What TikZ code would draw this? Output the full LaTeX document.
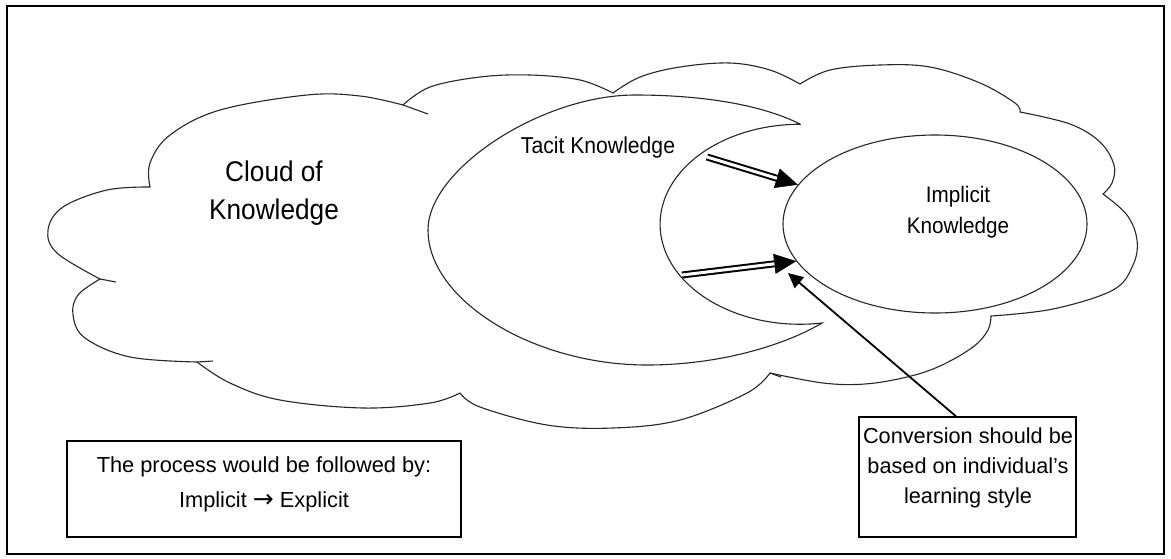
\documentclass[tikz,border=0pt]{standalone}
\usepackage{fontspec}
\setmainfont{Liberation Sans}
\newfontfamily\narrowfont{Liberation Sans}[FakeStretch=0.92]
\newfontfamily\symfont{DejaVu Sans}
\usetikzlibrary{arrows.meta,shapes.geometric,calc}
\begin{document}
\begin{tikzpicture}[x=1pt,y=-1pt,
  outl/.style={draw=black!85, line width=1.1pt},
  txt/.style={inner sep=0pt, align=center},
  box/.style={draw, line width=1.4pt, inner sep=0pt},
  bigtip/.style={-{Triangle[length=22pt,width=20pt]}, line width=0.6pt},
  dblshaft/.style={line width=2pt, double, double distance=3pt, shorten >=22pt},
  thinarrow/.style={line width=1.8pt, -{Triangle[length=15pt,width=14pt]}}]
\useasboundingbox (0,0) rectangle (1171,558);
\draw[line width=1.8pt] (7,6) rectangle (1164,554);
% cloud
\filldraw[outl, fill=white]
  plot[smooth, tension=0.6] coordinates {(403,105) (430,87) (480,77) (530,75) (580,80) (613,93)}
  -- plot[smooth, tension=0.6] coordinates {(613,93) (640,77) (680,67) (730,63) (770,70) (800,84)}
  -- plot[smooth, tension=0.6] coordinates {(800,84) (830,70) (880,65) (930,67) (980,83) (1015,103) (1020,112)}
  -- plot[smooth, tension=0.6] coordinates {(1020,112) (1070,124) (1100,142) (1114,165) (1112,183) (1103,194)}
  -- plot[smooth, tension=0.6] coordinates {(1103,194) (1127,215) (1137,240) (1133,265) (1113,290) (1053,309) (991,316)}
  -- plot[smooth, tension=0.6] coordinates {(991,316) (988,330) (973,347) (940,366) (907,377) (865,384) (823,383) (770,373)}
  -- plot[smooth, tension=0.6] coordinates {(770,373) (747,393) (680,420) (613,428) (547,425) (480,407) (460,393)}
  -- plot[smooth, tension=0.6] coordinates {(460,393) (430,403) (363,408) (280,400) (230,383) (197,362)}
  -- plot[smooth, tension=0.6] coordinates {(197,362) (130,357) (85,338) (73,315) (78,295) (100,279)}
  -- plot[smooth, tension=0.6] coordinates {(100,279) (57,253) (48,230) (63,207) (107,190) (150,187)}
  -- plot[smooth, tension=0.6] coordinates {(150,187) (150,163) (170,135) (220,110) (307,95) (360,96) (403,105)}
  -- cycle;
\draw[outl] (403,105) -- (428,114);
\draw[outl] (100,279) -- (116,282);
\draw[outl] (197,362) -- (213,361);
\draw[outl] (770,373) -- (781,377);
% tacit knowledge moon
\filldraw[outl, fill=white] (800,124) .. controls (760,104) and (700,95) .. (635,95)
  .. controls (542,95) and (428,169) .. (428,230)
  .. controls (428,300) and (533,365) .. (647,365)
  .. controls (720,365) and (785,345) .. (822,323)
  arc[start angle=81, end angle=270, x radius=140, y radius=100] -- cycle;
% implicit knowledge ellipse
\node[ellipse, outl, fill=white, minimum width=304pt, minimum height=178pt, inner sep=0pt] (impl) at (935,224) {};
% boxes
\node[box, minimum width=394pt, minimum height=96pt] (proc) at (264,489) {};
\node[box, minimum width=217pt, minimum height=120pt] (conv) at (967.5,477) {};
% arrows
\coordinate (d1s) at (707,157);
\coordinate (d2s) at (682,275);
\coordinate (ctip) at (788,273);
\draw[bigtip] (d1s) -- (impl.164.6);
\draw[dblshaft] (d1s) -- (impl.164.6);
\draw[bigtip] (d2s) -- (impl.195.1);
\draw[dblshaft] (d2s) -- (impl.195.1);
\draw[thinarrow] ([xshift=-11.5pt]conv.north) -- (ctip);
% texts
\node[txt, font=\narrowfont\fontsize{28.5}{38}\selectfont] (cloudtxt) at (274,193) {Cloud of\\Knowledge};
\node[txt, font=\narrowfont\fontsize{23}{26}\selectfont, anchor=base] (tacit) at (598,153) {Tacit Knowledge};
\node[txt, font=\narrowfont\fontsize{22.5}{31}\selectfont] (impltxt) at (958,212) {Implicit\\Knowledge};
\node[txt, font=\fontsize{21.8}{35}\selectfont] (proctxt) at (264,484) {The process would be followed by:\\Implicit {\symfont\fontsize{25}{25}\selectfont →} Explicit};
\node[txt, font=\fontsize{21.7}{30}\selectfont] (convtxt) at (968,467.4) {Conversion should be\\based on individual’s\\learning style};
\end{tikzpicture}
\end{document}
